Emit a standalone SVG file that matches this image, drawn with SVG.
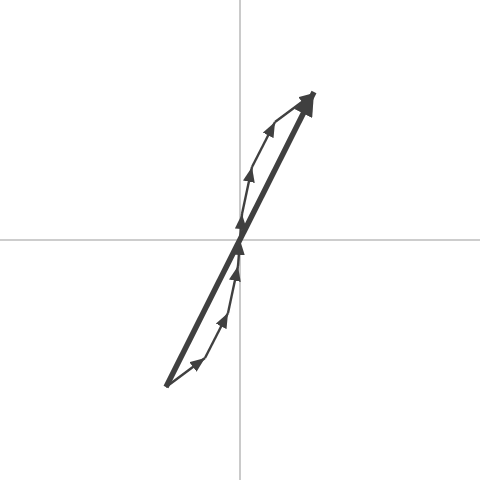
<svg xmlns="http://www.w3.org/2000/svg" width="480" height="480" viewBox="0 0 480 480">
<style>
.axis{stroke:#bdbdbd;stroke-width:1.6;fill:none}
.small{stroke:#404040;stroke-width:2.4;fill:none;marker-end:url(#hs)}
.big{stroke:#404040;stroke-width:5.5;fill:none;marker-end:url(#hb)}
</style>
<defs>
<marker id="hs" markerUnits="userSpaceOnUse" viewBox="0 0 15 12" refX="15" refY="6" markerWidth="15" markerHeight="12" orient="auto"><path d="M0,0 L15,6 L0,12 Z" fill="#404040"/></marker>
<marker id="hb" markerUnits="userSpaceOnUse" viewBox="0 0 24 20" refX="24" refY="10" markerWidth="24" markerHeight="20" orient="auto"><path d="M0,0 L24,10 L0,20 Z" fill="#404040"/></marker>
</defs>
<rect width="480" height="480" fill="#fff"/>
<g id="axes">
<line class="axis" x1="0" y1="240" x2="480" y2="240"/>
<line class="axis" x1="240" y1="0" x2="240" y2="480"/>
</g>
<g id="connectors">
<line class="small" x1="166" y1="387" x2="205" y2="358"/>
<line class="small" x1="205" y1="358" x2="228" y2="313"/>
<line class="small" x1="228" y1="313" x2="238" y2="266"/>
<line class="small" x1="238" y1="266" x2="240" y2="240"/>
<line class="small" x1="240" y1="240" x2="242" y2="214"/>
<line class="small" x1="242" y1="214" x2="252" y2="167"/>
<line class="small" x1="252" y1="167" x2="275" y2="122"/>
<line class="small" x1="275" y1="122" x2="314" y2="93"/>
<line class="big" x1="166" y1="387" x2="314" y2="92"/>
</g>
</svg>
